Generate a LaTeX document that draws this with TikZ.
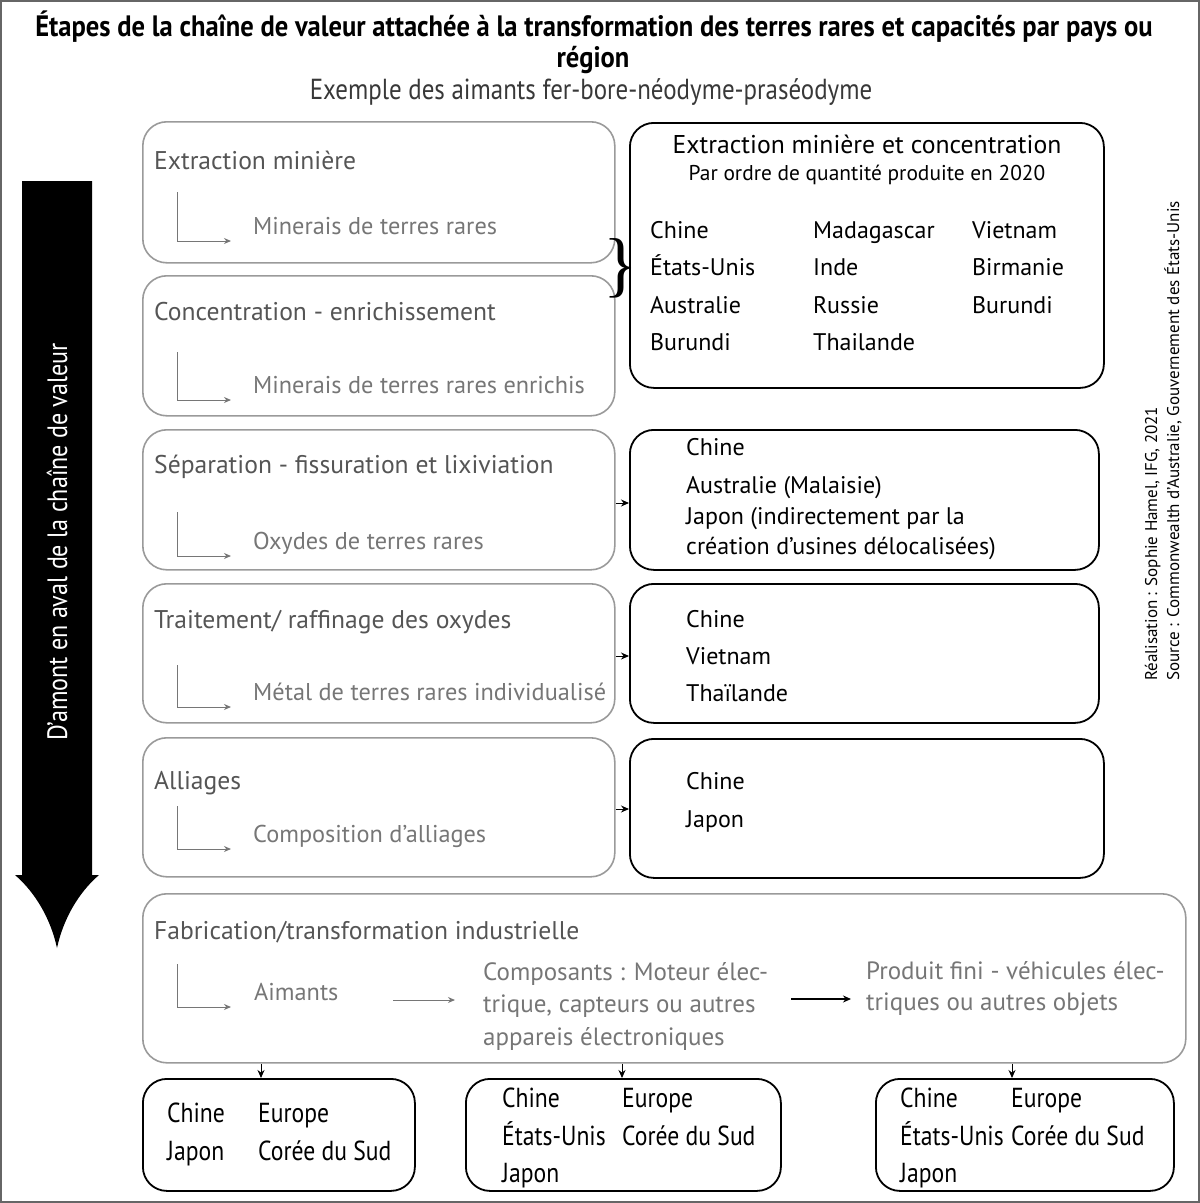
\documentclass[tikz,border=0pt]{standalone}
\usepackage{fontspec}
\setmainfont{PT Sans}
\newfontfamily\condf[FakeStretch=0.86]{PT Sans}
\newfontfamily\titf[FakeStretch=0.9]{PT Sans}
\newfontfamily\bracef{Liberation Serif}
\usetikzlibrary{arrows.meta}
\definecolor{gline}{HTML}{9A9A9A}
\definecolor{gtitle}{HTML}{555555}
\definecolor{gsub}{HTML}{767676}
\newcommand{\fsz}[1]{\fontsize{#1}{#1}\selectfont}
\newcommand{\fszb}[2]{\fontsize{#1}{#2}\selectfont}
\begin{document}
\begin{tikzpicture}[x=1pt,y=-1pt,
  gbox/.style={draw=gline, line width=1.6pt, rounded corners=24pt, minimum width=#1, anchor=north west, inner sep=0pt},
  bbox/.style={draw=black, line width=1.8pt, rounded corners=24pt, minimum width=#1, anchor=north west, inner sep=0pt},
  stitle/.style={anchor=base west, inner sep=0pt, text=gtitle, font=\fsz{25.6}},
  ssub/.style={anchor=base west, inner sep=0pt, text=gsub, font=\fsz{24.3}},
  ctry/.style={anchor=base west, inner sep=0pt, text=black, font=\fsz{24}},
  bctry/.style={anchor=base west, inner sep=0pt, text=black, font=\condf\fsz{27.5}},
  larr/.style={draw=gsub, line width=1pt, -{Stealth[length=7pt,width=6pt]}},
  karr/.style={draw=black, line width=1pt, -{Stealth[length=8pt,width=7pt]}},
]
\useasboundingbox (0,0) rectangle (1200,1203);
\draw[draw=gray!80!black, line width=2pt] (1,1) rectangle (1199,1202);

% title
\node[anchor=base, inner sep=0pt, font=\titf\bfseries\fsz{29.5}] (t1) at (594,36) {Étapes de la chaîne de valeur attachée à la transformation des terres rares et capacités par pays ou};
\node[anchor=base, inner sep=0pt, font=\titf\bfseries\fsz{29.5}] (t2) at (593,67) {région};
\node[anchor=base, inner sep=0pt, text=black!78, font=\condf\fsz{29}] (t3) at (591,99) {Exemple des aimants fer-bore-néodyme-praséodyme};

% black arrow
\fill[black] (22,181) -- (92,181) -- (92,875) -- (99,875)
  .. controls (78,893) and (63,920) .. (57,948)
  .. controls (51,920) and (36,893) .. (15,875) -- (22,875) -- cycle;
\node[rotate=90, text=white, inner sep=0pt, font=\condf\fsz{28}] (varr) at (57,542) {D’amont en aval de la chaîne de valeur};

% left grey boxes
\node[gbox=472pt, minimum height=141pt] (L1) at (142,121) {};
\node[gbox=472pt, minimum height=140pt] (L2) at (142,275) {};
\node[gbox=472pt, minimum height=140pt] (L3) at (142,429) {};
\node[gbox=472pt, minimum height=139pt] (L4) at (142,583) {};
\node[gbox=472pt, minimum height=139pt] (L5) at (142,737) {};
\node[gbox=1043pt, minimum height=169pt] (L6) at (142,893) {};

\node[stitle] (L1t) at (154,169) {Extraction minière};
\node[ssub] (L1s) at (253,234) {Minerais de terres rares};
\coordinate (L1c) at (177,192);
\draw[larr] (L1c) |- ([xshift=-22pt,yshift=-7pt]L1s.base west);

\node[stitle] (L2t) at (154,320) {Concentration - enrichissement};
\node[ssub] (L2s) at (253,393) {Minerais de terres rares enrichis};
\coordinate (L2c) at (177,352);
\draw[larr] (L2c) |- ([xshift=-22pt,yshift=-7pt]L2s.base west);

\node[stitle] (L3t) at (154,473) {Séparation - fissuration et lixiviation};
\node[ssub] (L3s) at (253,549) {Oxydes de terres rares};
\coordinate (L3c) at (177,512);
\draw[larr] (L3c) |- ([xshift=-22pt,yshift=-7pt]L3s.base west);

\node[stitle] (L4t) at (154,628) {Traitement/ raffinage des oxydes};
\node[ssub] (L4s) at (253,700) {Métal de terres rares individualisé};
\coordinate (L4c) at (177,665);
\draw[larr] (L4c) |- ([xshift=-22pt,yshift=-7pt]L4s.base west);

\node[stitle] (L5t) at (154,789) {Alliages};
\node[ssub] (L5s) at (253,842) {Composition d’alliages};
\coordinate (L5c) at (177,806);
\draw[larr] (L5c) |- ([xshift=-22pt,yshift=-7pt]L5s.base west);

\node[stitle] (L6t) at (154,939) {Fabrication/transformation industrielle};
\node[ssub] (L6s) at (254,1000) {Aimants};
\coordinate (L6c) at (177,964);
\draw[larr] (L6c) |- ([xshift=-23pt,yshift=-7pt]L6s.base west);
\node[anchor=north west, inner sep=0pt, text=gsub, align=left, font=\fszb{25}{32.5}] (L6m) at (483,962) {Composants : Moteur élec-\\trique, capteurs ou autres\\appareis électroniques};
\node[anchor=north west, inner sep=0pt, text=gsub, align=left, font=\fszb{25}{31}] (L6p) at (866,961) {Produit fini - véhicules élec-\\triques ou autres objets};
\coordinate (a1s) at (393,1000);
\draw[larr] (a1s) -- (455,1000);
\coordinate (a2s) at (791,999);
\draw[karr, line width=1.3pt] (a2s) -- (851,999);

% right boxes
\node[bbox=474pt, minimum height=265pt] (R1) at (629,122) {};
\node[anchor=base, inner sep=0pt, font=\fsz{25.7}] (R1t) at (867,153) {Extraction minière et concentration};
\node[anchor=base, inner sep=0pt, font=\fsz{21.4}] (R1s) at (867,180) {Par ordre de quantité produite en 2020};
\node[ctry] (c11) at (650,238) {Chine};
\node[ctry] (c12) at (650,275) {États-Unis};
\node[ctry] (c13) at (650,313) {Australie};
\node[ctry] (c14) at (650,350) {Burundi};
\node[ctry] (c21) at (813,238) {Madagascar};
\node[ctry] (c22) at (813,275) {Inde};
\node[ctry] (c23) at (813,313) {Russie};
\node[ctry] (c24) at (813,350) {Thailande};
\node[ctry] (c31) at (972,238) {Vietnam};
\node[ctry] (c32) at (972,275) {Birmanie};
\node[ctry] (c33) at (972,313) {Burundi};

\node[bbox=469pt, minimum height=140pt] (R2) at (629,429) {};
\node[ctry] (r21) at (686,455) {Chine};
\node[ctry] (r22) at (686,493) {Australie (Malaisie)};
\node[ctry] (r23) at (686,524) {Japon (indirectement par la};
\node[ctry] (r24) at (686,554) {création d’usines délocalisées)};

\node[bbox=469pt, minimum height=139pt] (R3) at (629,583) {};
\node[ctry] (r31) at (686,627) {Chine};
\node[ctry] (r32) at (686,664) {Vietnam};
\node[ctry] (r33) at (686,701) {Thaïlande};

\node[bbox=474pt, minimum height=139pt] (R4) at (629,738) {};
\node[ctry] (r41) at (686,789) {Chine};
\node[ctry] (r42) at (686,827) {Japon};

% brace
\node[inner sep=0pt, font=\bracef\fsz{72}] (brc) at (621,268) {\}};

% horizontal links
\draw[karr] (L3.east |- 0,503) -- (R2.west |- 0,503);
\draw[karr] (L4.east |- 0,656) -- (R3.west |- 0,656);
\draw[karr] (L5.east |- 0,809) -- (R4.west |- 0,809);

% bottom boxes
\node[bbox=272pt, minimum height=112pt] (B1) at (142,1078) {};
\node[bbox=315pt, minimum height=112pt] (B2) at (465,1078) {};
\node[bbox=298pt, minimum height=112pt] (B3) at (875,1078) {};
\coordinate (d1) at (261,1070);
\coordinate (d2) at (622,1070);
\coordinate (d3) at (1012,1070);
\draw[karr] (L6.south -| d1) -- (B1.north -| d1);
\draw[karr] (L6.south -| d2) -- (B2.north -| d2);
\draw[karr] (L6.south -| d3) -- (B3.north -| d3);

\node[bctry] (b11) at (167,1122) {Chine};
\node[bctry] (b12) at (258,1122) {Europe};
\node[bctry] (b13) at (167,1160) {Japon};
\node[bctry] (b14) at (258,1160) {Corée du Sud};

\node[bctry] (b21) at (502,1107) {Chine};
\node[bctry] (b22) at (622,1107) {Europe};
\node[bctry] (b23) at (502,1145) {États-Unis};
\node[bctry] (b24) at (622,1145) {Corée du Sud};
\node[bctry] (b25) at (502,1182) {Japon};

\node[bctry] (b31) at (900,1107) {Chine};
\node[bctry] (b32) at (1011,1107) {Europe};
\node[bctry] (b33) at (900,1145) {États-Unis};
\node[bctry] (b34) at (1011,1145) {Corée du Sud};
\node[bctry] (b35) at (900,1182) {Japon};

% credits
\node[rotate=90, anchor=base west, inner sep=0pt, font=\fsz{17}] (cr1) at (1157,681) {Réalisation : Sophie Hamel, IFG, 2021};
\node[rotate=90, anchor=base west, inner sep=0pt, font=\fsz{17}] (cr2) at (1179,681) {Source : Commonwealth d’Australie, Gouvernement des États-Unis};
\end{tikzpicture}
\end{document}
